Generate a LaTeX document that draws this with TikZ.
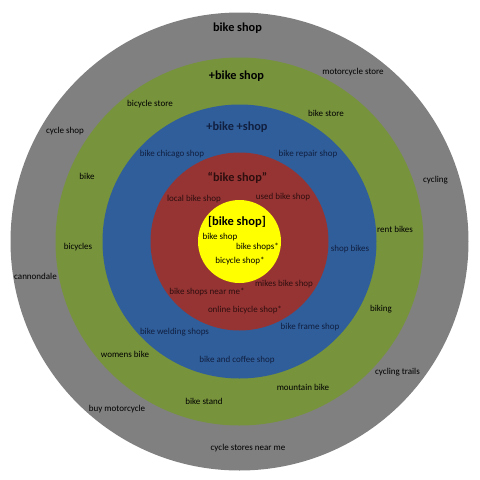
\documentclass[tikz,border=0pt]{standalone}
\usepackage{fontspec}
\setmainfont{Carlito}
\definecolor{ringgray}{HTML}{808080}
\definecolor{ringgreen}{HTML}{77933C}
\definecolor{ringblue}{HTML}{2F5E9A}
\definecolor{ringred}{HTML}{963434}
\definecolor{ringyellow}{HTML}{FFFF00}
\definecolor{bluetext}{HTML}{111F40}
\definecolor{redtext}{HTML}{2E0E0E}
\begin{document}
\begin{tikzpicture}
[
    x=1pt, y=-1pt,
    ring/.style={circle, draw=none, inner sep=0pt},
    term/.style={font=\fontsize{9}{10}\selectfont, inner sep=0pt},
    head/.style={font=\fontsize{12.3}{13}\selectfont\bfseries, inner sep=0pt}
]
    \useasboundingbox [fill=white] (0,0) rectangle (480,480);
    \coordinate (c) at (239.5,241.5);
    % target rings
    \node [ring, fill=ringgray, minimum size=458pt] (gray) at (c) {};
    \node [ring, fill=ringgreen, minimum size=368pt] (green) at (c) {};
    \node [ring, fill=ringblue, minimum size=274pt] (blue) at (c) {};
    \node [ring, fill=ringred, minimum size=178pt] (red) at (c) {};
    \node [ring, fill=ringyellow, minimum size=83pt] (yellow) at (c) {};
    % broad match
    \node [head] (broad) at (237.5,28) {bike shop};
    \node [term] (motorstore) at (353,72) {motorcycle store};
    \node [term] (cycleshop) at (65,131) {cycle shop};
    \node [term] (cycling) at (435.5,180) {cycling};
    \node [term] (cannondale) at (35.5,276) {cannondale};
    \node [term] (trails) at (397.5,372) {cycling trails};
    \node [term] (buymotor) at (117,409) {buy motorcycle};
    \node [term] (nearme) at (248,448) {cycle stores near me};
    % modified broad
    \node [head] (modbroad) at (236.5,76) {+bike shop};
    \node [term] (bicyclestore) at (150,104) {bicycle store};
    \node [term] (bikestore) at (326,113) {bike store};
    \node [term] (bike) at (87,176) {bike};
    \node [term] (bicycles) at (78,247) {bicycles};
    \node [term] (rent) at (395,229) {rent bikes};
    \node [term] (biking) at (381,309) {biking};
    \node [term] (womens) at (125,354) {womens bike};
    \node [term] (stand) at (204,401) {bike stand};
    \node [term] (mountain) at (303,387) {mountain bike};
    % modified both
    \node [head, text=bluetext] (modboth) at (237,127) {+bike +shop};
    \node [term, text=bluetext] (chicago) at (172,154) {bike chicago shop};
    \node [term, text=bluetext] (repair) at (308,154) {bike repair shop};
    \node [term, text=bluetext] (shopbikes) at (350,249) {shop bikes};
    \node [term, text=bluetext] (welding) at (174.5,332) {bike welding shops};
    \node [term, text=bluetext] (frame) at (310,327) {bike frame shop};
    \node [term, text=bluetext] (coffee) at (237,360) {bike and coffee shop};
    % phrase match
    \node [head, text=redtext] (phrase) at (237.5,178) {“bike shop”};
    \node [term, text=redtext] (local) at (194,199) {local bike shop};
    \node [term, text=redtext] (used) at (283,197) {used bike shop};
    \node [term, text=redtext] (mikes) at (284,284) {mikes bike shop};
    \node [term, text=redtext] (shopsnear) at (207,292) {bike shops near me*};
    \node [term, text=redtext] (online) at (245,310) {online bicycle shop*};
    % exact match
    \node [head, font=\fontsize{12.5}{13}\selectfont\bfseries] (exact) at (237,222) {[bike shop]};
    \node [term] (exact1) at (220,237) {bike shop};
    \node [term] (exact2) at (257.5,247) {bike shops*};
    \node [term] (exact3) at (240,261) {bicycle shop*};
\end{tikzpicture}
\end{document}
